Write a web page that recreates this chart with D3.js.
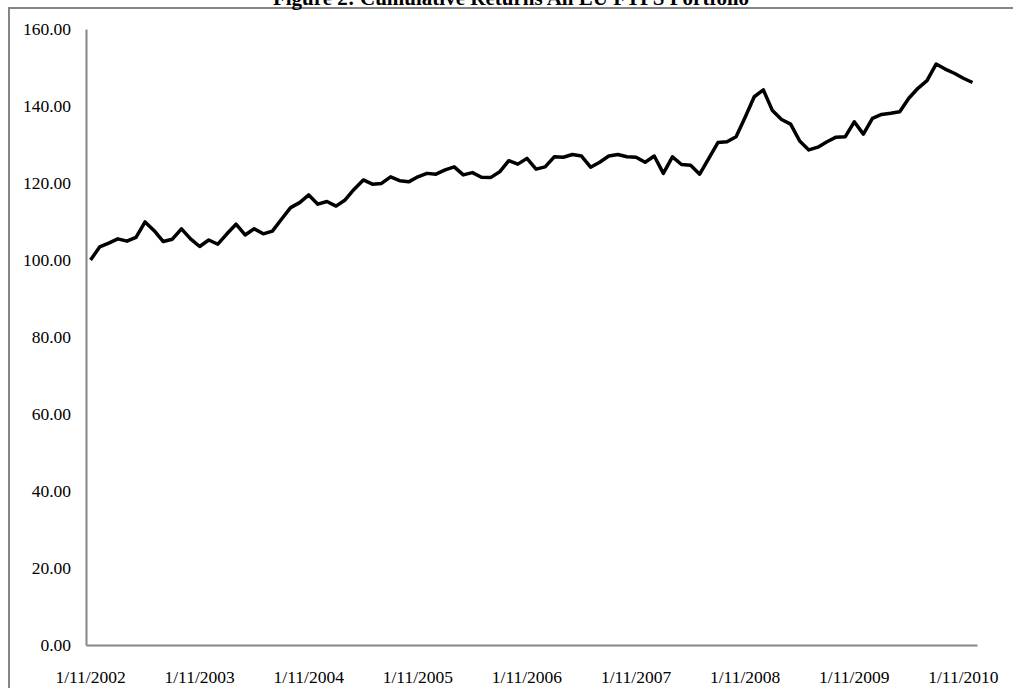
<!DOCTYPE html>
<meta charset="utf-8">
<style>
body { margin: 0; background: #fff; overflow: hidden; }
#frame { position: absolute; left: 8px; top: 7px; width: 1100px; height: 800px;
         border-left: 2px solid #868686; border-top: 2px solid #868686; }
svg { position: absolute; left: 0; top: 0; display: block; }
.tick text { font-family: "Liberation Serif", "Times New Roman", serif; font-size: 17.5px; fill: #000; }
</style>
<body>
<div id="frame"></div>
<script src="https://d3js.org/d3.v7.min.js"></script>
<script>

// monthly cumulative returns, Nov 2002 .. Dec 2010
var values = [
  100.0, 103.4, 104.4, 105.5, 104.9, 105.9, 109.9, 107.6, 104.8, 105.4,
  108.1, 105.5, 103.5, 105.2, 104.1, 106.8, 109.3, 106.5, 108.1, 106.8,
  107.5, 110.6, 113.6, 114.9, 116.9, 114.5, 115.2, 114.0, 115.6, 118.4,
  120.8, 119.7, 119.9, 121.6, 120.6, 120.3, 121.6, 122.5, 122.3, 123.4,
  124.2, 122.1, 122.7, 121.5, 121.4, 122.9, 125.8, 124.9, 126.4, 123.6,
  124.2, 126.8, 126.7, 127.4, 127.0, 124.1, 125.4, 127.0, 127.4, 126.8,
  126.7, 125.4, 127.0, 122.5, 126.8, 124.8, 124.6, 122.3, 126.4, 130.5,
  130.7, 132.0, 137.1, 142.4, 144.2, 138.8, 136.5, 135.3, 130.9, 128.6,
  129.3, 130.7, 131.9, 132.0, 135.9, 132.7, 136.8, 137.8, 138.1, 138.5,
  142.0, 144.6, 146.6, 150.9, 149.6, 148.5, 147.2, 146.1
];

var tickLabels = ["1/11/2002", "1/11/2003", "1/11/2004", "1/11/2005", "1/11/2006",
                  "1/11/2007", "1/11/2008", "1/11/2009", "1/11/2010"];
var yTicks = [0, 20, 40, 60, 80, 100, 120, 140, 160];

var W = 1013, H = 688;
var margin = {top: 29, right: 36, bottom: 43, left: 86};
var width = W - margin.left - margin.right,
    height = H - margin.top - margin.bottom;

var svg = d3.select("body").append("svg")
    .attr("width", W)
    .attr("height", H);

// title, clipped at top of the page
svg.append("text")
    .attr("x", 511).attr("y", 5)
    .attr("text-anchor", "middle")
    .style("font-family", "'Liberation Serif', 'Times New Roman', serif")
    .style("font-weight", "bold")
    .style("font-size", "21px")
    .text("Figure 2: Cumulative Returns All EU FTPS Portfolio");

var g = svg.append("g")
    .attr("transform", "translate(" + margin.left + "," + margin.top + ")");

var x = d3.scaleBand()
    .domain(d3.range(values.length))
    .range([0, width]);

var y = d3.scaleLinear()
    .domain([0, 160])
    .range([height, 0]);

// x axis: label every 12th month
var xAxis = d3.axisBottom(x)
    .tickValues(tickLabels.map(function(d, i) { return i * 12; }))
    .tickFormat(function(d) { return tickLabels[d / 12]; })
    .tickSize(0)
    .tickPadding(26);

var gx = g.append("g")
    .attr("transform", "translate(0," + height + ")")
    .call(xAxis);
gx.select(".domain").attr("stroke", "#868686").attr("stroke-width", 2);

var yAxis = d3.axisLeft(y)
    .tickValues(yTicks)
    .tickFormat(d3.format(".2f"))
    .tickSize(0)
    .tickPadding(15);

var gy = g.append("g").call(yAxis);
gy.select(".domain").attr("stroke", "#868686").attr("stroke-width", 2);

var line = d3.line()
    .x(function(d, i) { return x(i) + x.bandwidth() / 2; })
    .y(function(d) { return y(d); });

g.append("path")
    .datum(values)
    .attr("fill", "none")
    .attr("stroke", "#000")
    .attr("stroke-width", 3.5)
    .attr("stroke-linejoin", "round")
    .attr("d", line);

</script>
</body>
